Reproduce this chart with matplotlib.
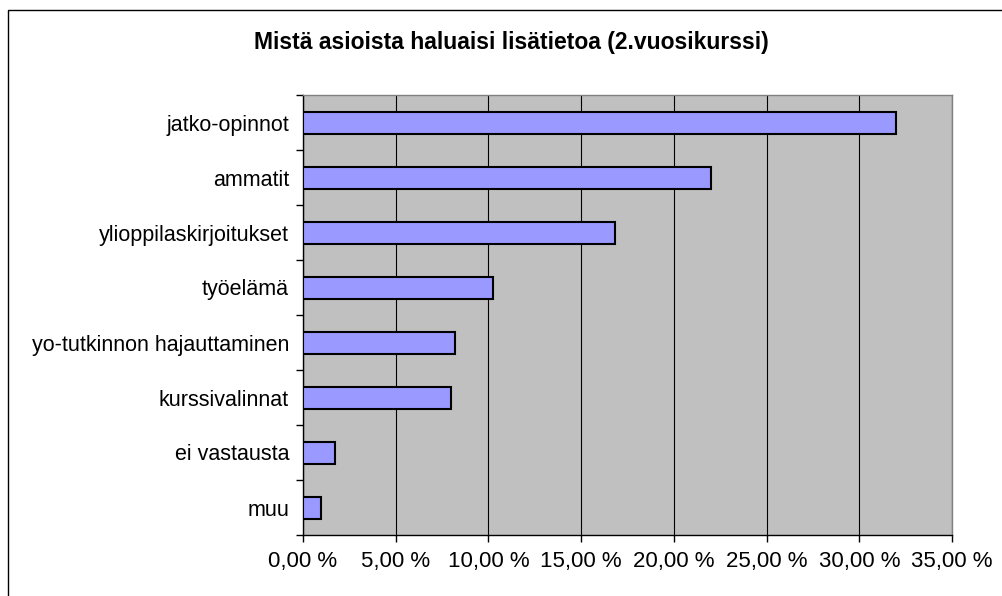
import matplotlib
matplotlib.use("Agg")
import matplotlib.pyplot as plt
from matplotlib.ticker import FuncFormatter, FixedLocator
from matplotlib.patches import Rectangle

categories = ["jatko-opinnot", "ammatit", "ylioppilaskirjoitukset", "työelämä",
              "yo-tutkinnon hajauttaminen", "kurssivalinnat", "ei vastausta", "muu"]
values = [32.0, 22.0, 16.85, 10.25, 8.2, 8.0, 1.7, 0.95]
x_ticks = [0, 5, 10, 15, 20, 25, 30, 35]
title = "Mistä asioista haluaisi lisätietoa (2.vuosikurssi)"

plt.rcParams['font.family'] = ['Liberation Sans', 'DejaVu Sans']

W, H = 1002, 596
fig = plt.figure(figsize=(W / 100, H / 100), dpi=100)
fig.patch.set_facecolor("white")

# outer chart border
fig.patches.append(Rectangle((7.5 / W, -0.1), 1.2, (H - 10) / H + 0.1, transform=fig.transFigure,
                             fill=False, edgecolor="black", linewidth=1.0))

ax = fig.add_axes([303 / W, (H - 535) / H, (952 - 303) / W, (535 - 95) / H])
ax.set_facecolor("#C0C0C0")

n = len(categories)
ypos = list(range(n))
ax.barh(ypos, values, height=0.4, color="#9999FF", edgecolor="black", linewidth=1.5, zorder=3)
ax.set_ylim(n - 0.5, -0.5)
ax.set_xlim(0, 35)

ax.xaxis.set_major_locator(FixedLocator(x_ticks))
ax.xaxis.set_major_formatter(FuncFormatter(lambda v, p: f"{v:.2f}".replace(".", ",") + " %"))
ax.grid(axis="x", color="black", linewidth=0.8, zorder=1)
ax.set_axisbelow(True)

ax.set_yticks(ypos)
ax.set_yticklabels(categories)
ax.set_yticks([i - 0.5 for i in range(n + 1)], minor=True)
ax.tick_params(axis="y", which="major", length=0, pad=10, labelsize=15.5)
ax.tick_params(axis="y", which="minor", length=5, width=1, color="black")
ax.tick_params(axis="x", which="major", length=5, width=1, pad=6.5, labelsize=16)

for s in ["top", "right"]:
    ax.spines[s].set_color("#808080")
    ax.spines[s].set_linewidth(1.0)
for s in ["left", "bottom"]:
    ax.spines[s].set_color("black")
    ax.spines[s].set_linewidth(1.0)

fig.text(511 / W, 1 - 49 / H, title, ha="center", va="baseline", fontsize=16.5, fontweight="bold")

fig.savefig("out.png", dpi=100)
